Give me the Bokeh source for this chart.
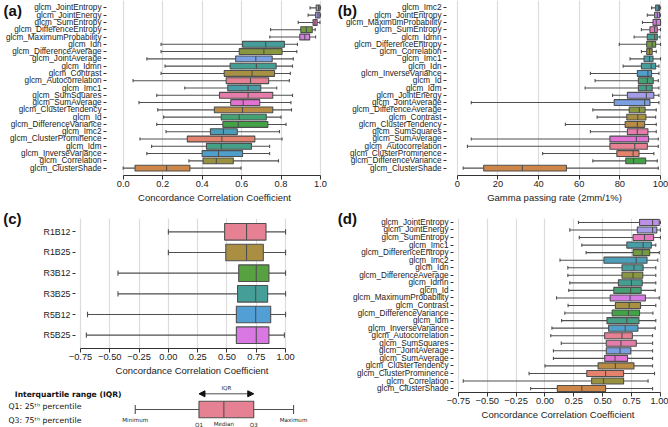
import math, colorsys
import numpy as np
from bokeh.plotting import figure
from bokeh.models import (FactorRange, Range1d, FixedTicker, Arrow, NormalHead, LinearAxis,
                          ColumnDataSource)
from bokeh.layouts import row, column
from bokeh.embed import file_html
from bokeh.resources import INLINE
from bokeh.core.properties import value

# ---------------- data ----------------
names_a = ["JointEntropy", "JointEnergy", "SumEntropy", "DifferenceEntropy", "MaximumProbability",
           "Idn", "DifferenceAverage", "JointAverage", "Idmn", "Contrast", "Autocorrelation", "Imc1",
           "SumSquares", "SumAverage", "ClusterTendency", "Id", "DifferenceVariance", "Imc2",
           "ClusterProminence", "Idm", "InverseVariance", "Correlation", "ClusterShade"]
low_a = [0.947, 0.937, 0.887, 0.747, 0.743, 0.192, 0.192, 0.12, 0.212, 0.192, 0.05, 0.312, 0.17,
         0.08, 0.175, 0.205, 0.17, 0.217, 0.085, 0.144, 0.12, 0.333, 0.0]
q1_a = [0.978, 0.975, 0.962, 0.900, 0.895, 0.605, 0.588, 0.570, 0.542, 0.512, 0.522, 0.530, 0.488,
        0.545, 0.462, 0.497, 0.505, 0.442, 0.325, 0.422, 0.400, 0.405, 0.060]
med_a = [0.990, 0.987, 0.972, 0.928, 0.920, 0.722, 0.713, 0.672, 0.675, 0.653, 0.645, 0.633, 0.633,
         0.608, 0.605, 0.588, 0.583, 0.508, 0.500, 0.497, 0.483, 0.472, 0.220]
q3_a = [0.997, 0.997, 0.983, 0.958, 0.945, 0.817, 0.805, 0.755, 0.775, 0.767, 0.737, 0.697, 0.758,
        0.692, 0.758, 0.725, 0.733, 0.578, 0.667, 0.650, 0.605, 0.558, 0.338]
high_a = [1.0, 1.0, 0.997, 0.973, 0.975, 0.883, 0.880, 0.862, 0.858, 0.847, 0.842, 0.778, 0.858,
          0.850, 0.853, 0.800, 0.825, 0.792, 0.805, 0.742, 0.742, 0.787, 0.597]

names_b = ["Imc2", "JointEntropy", "MaximumProbability", "SumEntropy", "Idmn", "DifferenceEntropy",
           "Correlation", "Imc1", "Idn", "InverseVariance", "Id", "Idm", "JointEnergy", "JointAverage",
           "DifferenceAverage", "Contrast", "ClusterTendency", "SumSquares", "SumAverage",
           "Autocorrelation", "ClusterProminence", "DifferenceVariance", "ClusterShade"]
low_b = [95.6, 93.5, 91.1, 90.6, 87.0, 79.7, 90.6, 85.0, 81.6, 65.5, 67.8, 62.9, 76.4, 6.9, 66.7,
         68.8, 53.2, 65.5, 6.9, 5.0, 42.0, 66.7, 2.9]
q1_b = [97.6, 97.1, 96.3, 94.8, 93.5, 93.2, 93.2, 91.9, 90.6, 88.6, 89.1, 89.1, 83.7, 77.2, 84.6,
        83.4, 82.6, 83.7, 75.1, 75.1, 78.5, 82.9, 13.0]
med_b = [98.9, 98.4, 97.9, 97.1, 97.1, 95.9, 94.6, 94.6, 95.4, 93.8, 93.5, 93.0, 93.0, 92.2, 89.6,
         88.8, 88.6, 88.6, 88.1, 87.3, 86.5, 86.7, 32.0]
q3_b = [99.5, 99.5, 100.0, 98.4, 98.4, 97.6, 95.9, 96.3, 97.6, 95.6, 96.4, 95.9, 96.7, 94.8, 92.4,
        92.8, 92.2, 93.8, 94.1, 93.5, 89.4, 92.7, 53.7]
high_b = [100.0, 100.0, 100.0, 100.0, 99.7, 100.0, 97.9, 100.0, 99.2, 99.2, 98.9, 99.2, 99.2, 99.2,
          97.9, 97.6, 97.9, 97.9, 98.9, 98.9, 96.7, 98.4, 98.9]

names_c = ["R1B12", "R1B25", "R3B12", "R3B25", "R5B12", "R5B25"]
low_c = [0.0, 0.0, -0.43, -0.43, -0.69, -0.70]
q1_c = [0.48, 0.49, 0.60, 0.59, 0.58, 0.58]
med_c = [0.667, 0.667, 0.75, 0.745, 0.745, 0.75]
q3_c = [0.833, 0.81, 0.858, 0.847, 0.873, 0.858]
high_c = [1.0, 1.0, 1.0, 1.0, 1.0, 0.99]

names_d = ["JointEntropy", "JointEnergy", "SumEntropy", "Imc1", "DifferenceEntropy", "Imc2", "Idn",
           "DifferenceAverage", "Idmn", "Id", "MaximumProbability", "Contrast", "DifferenceVariance",
           "Idm", "InverseVariance", "Autocorrelation", "SumSquares", "JointAverage", "SumAverage",
           "ClusterTendency", "ClusterProminence", "Correlation", "ClusterShade"]
low_d = [0.29, 0.215, 0.297, 0.319, 0.356, 0.13, 0.198, 0.198, 0.215, 0.206, 0.10, 0.20, 0.172,
         0.144, 0.06, 0.05, 0.141, 0.073, 0.073, 0.0, -0.138, -0.708, -0.124]
q1_d = [0.819, 0.80, 0.763, 0.709, 0.763, 0.511, 0.667, 0.667, 0.636, 0.596, 0.565, 0.61, 0.582,
        0.537, 0.551, 0.517, 0.531, 0.531, 0.517, 0.46, 0.362, 0.404, 0.107]
med_d = [0.932, 0.932, 0.862, 0.85, 0.842, 0.79, 0.771, 0.763, 0.749, 0.743, 0.737, 0.729, 0.723,
         0.709, 0.695, 0.667, 0.658, 0.65, 0.607, 0.61, 0.525, 0.508, 0.319]
q3_d = [0.99, 0.969, 0.941, 0.921, 0.907, 0.884, 0.85, 0.847, 0.842, 0.833, 0.87, 0.828, 0.819,
        0.814, 0.805, 0.757, 0.791, 0.743, 0.715, 0.771, 0.681, 0.681, 0.525]
high_d = [1.0, 1.0, 1.0, 0.96, 0.99, 0.977, 0.96, 0.96, 0.96, 0.955, 0.99, 0.96, 0.935, 0.96,
          0.955, 0.932, 0.932, 0.932, 0.932, 0.932, 0.949, 0.893, 0.932]

ticks_a = [0.0, 0.2, 0.4, 0.6, 0.8, 1.0]
ticks_b = [0, 20, 40, 60, 80, 100]
ticks_cd = [-0.75, -0.5, -0.25, 0.0, 0.25, 0.5, 0.75, 1.0]
labels_a = ["0.0", "0.2", "0.4", "0.6", "0.8", "1.0"]
labels_b = ["0", "20", "40", "60", "80", "100"]
labels_cd = ["\u22120.75", "\u22120.50", "\u22120.25", "0.00", "0.25", "0.50", "0.75", "1.00"]

# legend example (min, Q1, median, Q3, max)
legend_stats = [134, 198, 223, 253, 293]
legend_title = "Interquartile range (IQR)"
legend_lines = ["Q1: 25\u1d57\u02b0 percentile", "Q3: 75\u1d57\u02b0 percentile"]
legend_marks = ["Minimum", "Q1", "Median", "Q3", "Maximum"]

# ---------------- husl palette (seaborn style) ----------------
_m = [[3.2406, -1.5372, -0.4986], [-0.9689, 1.8758, 0.0415], [0.0557, -0.2040, 1.0570]]
_refU, _refV, _e, _k = 0.19784, 0.46834, 0.008856, 903.3


def _max_chroma(L, H):
    hr = math.radians(H)
    sH, cH = math.sin(hr), math.cos(hr)
    sub1 = (L + 16) ** 3 / 1560896.0
    sub2 = sub1 if sub1 > _e else L / _k
    res = float("inf")
    for m1, m2, m3 in _m:
        top = (0.99915 * m1 + 1.05122 * m2 + 1.14460 * m3) * sub2
        rb = 0.86330 * m3 - 0.17266 * m2
        lb = 0.12949 * m3 - 0.38848 * m1
        bottom = (rb * sH + lb * cH) * sub2
        for t in (0.0, 1.0):
            C = L * (top - 1.05122 * t) / (bottom + 0.17266 * sH * t)
            if 0.0 < C < res:
                res = C
    return res


def _husl_to_rgb(H, S, L):
    C = _max_chroma(L, H) / 100.0 * S
    hr = math.radians(H)
    U, V = math.cos(hr) * C, math.sin(hr) * C
    t = (L + 16.0) / 116.0
    Y = t ** 3 if t ** 3 > _e else (116.0 * t - 16.0) / _k
    vu = U / (13.0 * L) + _refU
    vv = V / (13.0 * L) + _refV
    X = 0.0 - (9.0 * Y * vu) / ((vu - 4.0) * vv - vu * vv)
    Z = (9.0 * Y - 15.0 * vv * Y - vv * X) / (3.0 * vv)
    out = []
    for r in _m:
        c = r[0] * X + r[1] * Y + r[2] * Z
        c = 12.92 * c if c <= 0.0031308 else 1.055 * c ** (1 / 2.4) - 0.055
        out.append(min(max(c, 0.0), 1.0))
    return out


def husl_palette(n):
    hues = ((np.linspace(0, 1, n + 1)[:-1] + 0.01) % 1) * 359
    cols = []
    for h in hues:
        rgb = _husl_to_rgb(h, 0.9 * 99, 0.65 * 99)
        hh, ll, ss = colorsys.rgb_to_hls(*rgb)
        rgb = colorsys.hls_to_rgb(hh, ll, ss * 0.75)
        cols.append("#%02x%02x%02x" % tuple(int(round(c * 255)) for c in rgb))
    return cols


feat_sorted = sorted(names_a)
feat_color = dict(zip(feat_sorted, husl_palette(len(feat_sorted))))
pal6 = husl_palette(6)

EDGE = "#4f4f4f"
LW = 1.1
FONT = "Liberation Sans"


def box_panel(names, low, q1, med, q3, high, colors, width, height, mb, xr, xb, ticks, tlabels,
              pad, cap, ylab_size, prefix):
    cats = [prefix + n for n in names]
    p = figure(width=width, height=height, output_backend="svg", toolbar_location=None,
               x_range=Range1d(*xr),
               y_range=FactorRange(factors=list(reversed(cats)), range_padding=pad,
                                   range_padding_units="absolute"),
               min_border_left=mb[0], min_border_right=mb[1], min_border_top=mb[2],
               min_border_bottom=mb[3])
    src = ColumnDataSource(dict(
        y=cats, low=low, q1=q1, med=med, q3=q3, high=high, color=colors,
        clo=[(c, -cap) for c in cats], chi=[(c, cap) for c in cats],
        mlo=[(c, -0.4) for c in cats], mhi=[(c, 0.4) for c in cats]))
    p.segment(x0="low", y0="y", x1="high", y1="y", source=src, line_color=EDGE, line_width=LW)
    p.segment(x0="low", y0="clo", x1="low", y1="chi", source=src, line_color=EDGE, line_width=LW)
    p.segment(x0="high", y0="clo", x1="high", y1="chi", source=src, line_color=EDGE, line_width=LW)
    p.hbar(y="y", left="q1", right="q3", height=0.8, source=src, fill_color="color",
           line_color=EDGE, line_width=LW)
    p.segment(x0="med", y0="mlo", x1="med", y1="mhi", source=src, line_color=EDGE, line_width=LW)

    p.outline_line_color = None
    p.ygrid.grid_line_color = None
    tk = FixedTicker(ticks=ticks)
    p.xaxis.ticker = tk
    p.xgrid.ticker = tk
    p.xgrid.grid_line_color = "#dcdcdc"
    p.xgrid.grid_line_width = 1.2
    p.xaxis.major_label_overrides = dict(zip(ticks, tlabels))
    p.xaxis.bounds = xb
    p.xaxis.axis_line_color = "#333333"
    p.xaxis.major_tick_line_color = "#333333"
    p.xaxis.major_tick_out = 4
    p.xaxis.major_tick_in = 0
    p.xaxis.minor_tick_line_color = None
    p.xaxis.major_label_standoff = 1
    p.xaxis.major_label_text_font = FONT
    p.xaxis.major_label_text_font_size = "9.3px"
    p.xaxis.major_label_text_color = "#222222"
    p.xaxis.axis_label_standoff = 2
    p.xaxis.axis_label_text_font = FONT
    p.xaxis.axis_label_text_font_size = "9.5px"
    p.xaxis.axis_label_text_font_style = "normal"
    p.xaxis.axis_label_text_color = "#222222"
    p.yaxis.axis_line_color = None
    p.yaxis.major_tick_line_color = "#333333"
    p.yaxis.major_tick_out = 3
    p.yaxis.major_tick_in = 0
    p.yaxis.major_label_standoff = 2
    p.yaxis.major_label_text_font = FONT
    p.yaxis.major_label_text_font_size = ylab_size
    p.yaxis.major_label_text_color = "#222222"
    return p


def panel_letter(p, text, standoff):
    # the panel letter is carried by the y axis' own label, laid flat at the top end
    ax = p.yaxis[0]
    try:
        ax.axis_label_orientation = "horizontal"
        ax.axis_label_align = "end"
        ax.axis_label = text
        ax.axis_label_standoff = standoff
        ax.axis_label_text_font = FONT
        ax.axis_label_text_font_size = "15px"
        ax.axis_label_text_font_style = "bold"
        ax.axis_label_text_color = "#111111"
    except Exception:
        ax.axis_label = None


pa = box_panel(names_a, low_a, q1_a, med_a, q3_a, high_a, [feat_color[n] for n in names_a],
               334, 205, (102, 12, 0, 29), (-0.0846, 1.01), (0, 1), ticks_a, labels_a,
               0.51, 0.22, "8.2px", "glcm_")
pa.xaxis.axis_label = "Concordance Correlation Coefficient"
panel_letter(pa, "\n(a)", -19)

pb = box_panel(names_b, low_b, q1_b, med_b, q3_b, high_b, [feat_color[n] for n in names_b],
               334, 205, (108, 6, 0, 29), (-5.3, 100.97), (0, 100), ticks_b, labels_b,
               0.51, 0.22, "8.2px", "glcm_")
pb.xaxis.axis_label = "Gamma passing rate (2mm/1%)"
panel_letter(pb, "\n(b)", -14)

pc = box_panel(names_c, low_c, q1_c, med_c, q3_c, high_c, pal6,
               334, 173, (74, 26, 13, 28), (-0.7925, 1.1956), (-0.75, 1.0), ticks_cd, labels_cd,
               0.145, 0.13, "8.8px", "")
pc.xaxis.axis_label = "Concordance Correlation Coefficient"
panel_letter(pc, "(c)", 19)

pd_ = box_panel(names_d, low_d, q1_d, med_d, q3_d, high_d, [feat_color[n] for n in names_d],
                334, 222, (115, 6, 13, 35), (-0.7925, 1.018), (-0.75, 1.0), ticks_cd, labels_cd,
                0.02, 0.22, "8.2px", "glcm_")
pd_.xaxis.axis_label = "Concordance Correlation Coefficient"
panel_letter(pd_, "(d)", -7)

# ---------------- IQR legend (frame aligned with panel c) ----------------
pl = figure(width=334, height=49, output_backend="svg", toolbar_location=None,
            x_range=Range1d(74, 308), y_range=Range1d(0, 49), x_axis_type=None, y_axis_type=None,
            min_border_left=74, min_border_right=26, min_border_top=0, min_border_bottom=0)
pl.outline_line_color = None
pl.xgrid.grid_line_color = None
pl.ygrid.grid_line_color = None
mn, lq1, lmed, lq3, mx = legend_stats
yc = 18
pl.segment(x0=[mn], y0=[yc], x1=[mx], y1=[yc], line_color=EDGE, line_width=LW)
pl.segment(x0=[mn, mx], y0=[yc - 4.5, yc - 4.5], x1=[mn, mx], y1=[yc + 4.5, yc + 4.5],
           line_color=EDGE, line_width=LW)
pl.hbar(y=[yc], left=[lq1], right=[lq3], height=16.6, fill_color=pal6[0], line_color=EDGE,
        line_width=LW)
pl.segment(x0=[lmed], y0=[yc - 8.3], x1=[lmed], y1=[yc + 8.3], line_color=EDGE, line_width=LW)
pl.add_layout(Arrow(start=NormalHead(size=6, fill_color="#111111", line_color="#111111"),
                    end=NormalHead(size=6, fill_color="#111111", line_color="#111111"),
                    x_start=lq1, y_start=33.7, x_end=lq3, y_end=33.7,
                    line_color="#222222", line_width=0.8))
LF = value("DejaVu Sans")
pl.text(x=[(lq1 + lq3) / 2], y=[39.5], text=["IQR"], text_font=LF, text_font_size="5.5px",
        text_align="center", text_baseline="middle", text_color="#222222")
pl.text(x=legend_stats, y=[7.7, 3.0, 3.6, 3.0, 7.7], text=legend_marks, text_font=LF,
        text_font_size="5.6px", text_align="center", text_baseline="middle",
        text_color="#222222")

# left-hand legend texts carried by two tick-only axes
ax_t = LinearAxis(ticker=FixedTicker(ticks=[33]), major_label_overrides={33: legend_title},
                  axis_line_color=None, major_tick_line_color=None, minor_tick_line_color=None,
                  major_tick_out=0, major_tick_in=0, major_label_standoff=-46,
                  major_label_text_font="DejaVu Sans", major_label_text_font_size="7.6px",
                  major_label_text_font_style="bold", major_label_text_color="#111111")
ax_q = LinearAxis(ticker=FixedTicker(ticks=[21, 7.5]),
                  major_label_overrides={21: legend_lines[0], 7.5: legend_lines[1]},
                  axis_line_color=None, major_tick_line_color=None, minor_tick_line_color=None,
                  major_tick_out=0, major_tick_in=0, major_label_standoff=-70,
                  major_label_text_font="DejaVu Sans", major_label_text_font_size="7.8px",
                  major_label_text_color="#111111")
pl.add_layout(ax_t, "left")
pl.add_layout(ax_q, "left")

layout = column(row(pa, pb), row(column(pc, pl), pd_))
open("out.html", "w").write(file_html(layout, INLINE))
